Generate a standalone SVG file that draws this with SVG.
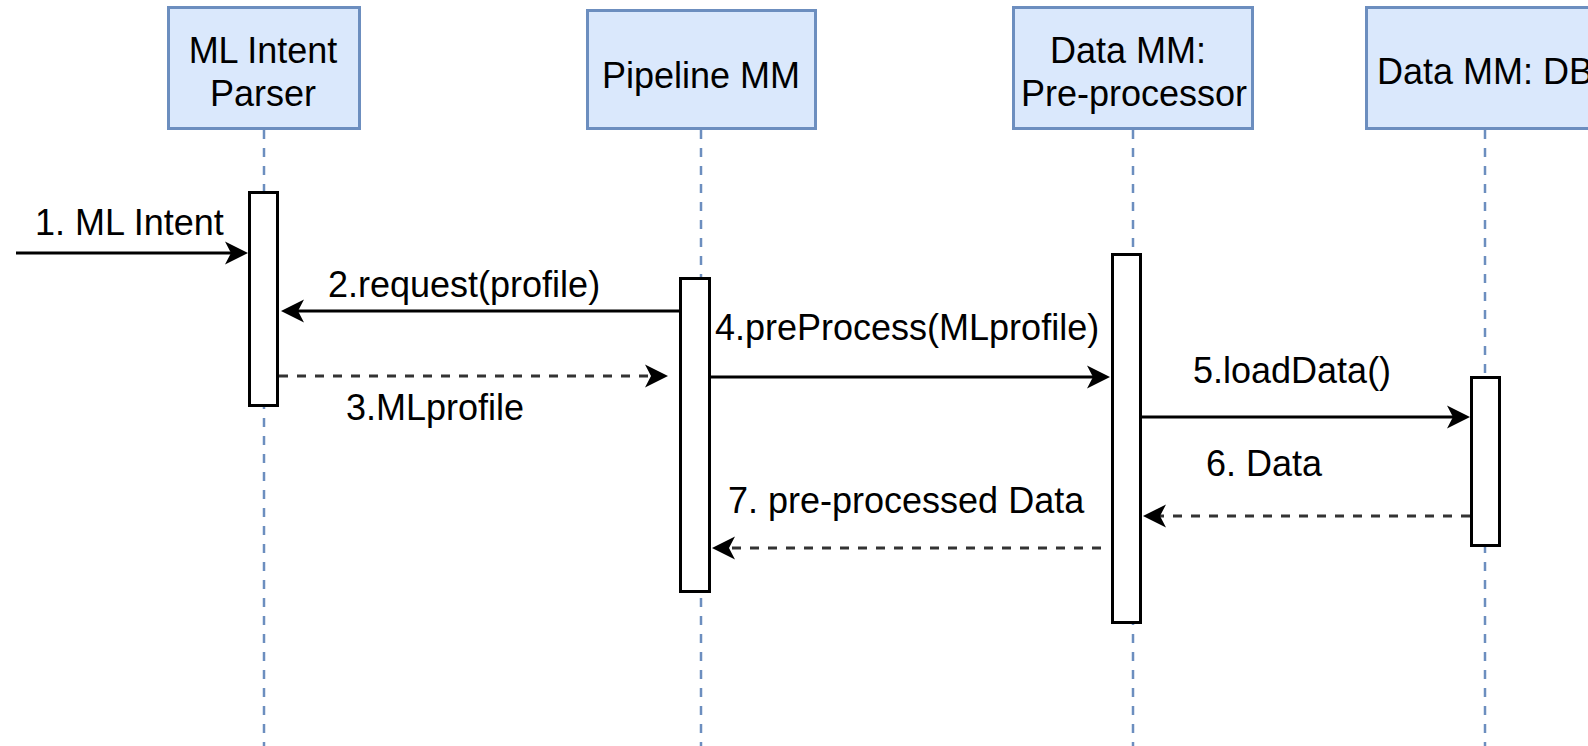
<svg xmlns="http://www.w3.org/2000/svg" width="1588" height="746" viewBox="0 0 1588 746">
  <style>
    .head { fill: #dae8fc; stroke: #6c8ebf; stroke-width: 3; }
    .life { fill: none; stroke: #6c8ebf; stroke-width: 2.5; stroke-dasharray: 9 9; }
    .act { fill: #ffffff; stroke: #000000; stroke-width: 3; }
    .msg { fill: none; stroke: #000000; stroke-width: 3; marker-end: url(#arrow); }
    .ret { fill: none; stroke: #333333; stroke-width: 3; stroke-dasharray: 9 9; marker-end: url(#arrow); }
    text { font-family: "Liberation Sans", Arial, sans-serif; font-size: 36px; fill: #000000; }
    .c { text-anchor: middle; }
  </style>
  <defs>
    <!-- classic notched arrowhead, tip 17px beyond the line end -->
    <marker id="arrow" markerUnits="userSpaceOnUse" markerWidth="24" markerHeight="24" viewBox="0 0 24 24" refX="6" refY="12" orient="auto">
      <path d="M0,0.5 L23,12 L0,23.5 L6,12 Z" fill="#000000"/>
    </marker>
  </defs>

  <rect width="1588" height="746" fill="#ffffff"/>

  <!-- lifelines -->
  <g id="lifelines">
    <line class="life" x1="264" y1="130" x2="264" y2="746"/>
    <line class="life" x1="701" y1="130" x2="701" y2="746"/>
    <line class="life" x1="1133" y1="130" x2="1133" y2="746"/>
    <line class="life" x1="1485" y1="130" x2="1485" y2="746"/>
  </g>

  <g id="intent-parser">
    <rect class="head" x="168.5" y="7.5" width="191" height="121"/>
    <text class="c" x="263" y="63">ML Intent</text>
    <text class="c" x="263" y="106">Parser</text>
    <rect class="act" x="249.5" y="192.5" width="28" height="213"/>
  </g>

  <g id="pipeline-mm">
    <rect class="head" x="587.5" y="10.5" width="228" height="118"/>
    <text class="c" x="701" y="88">Pipeline MM</text>
    <rect class="act" x="680.5" y="278.5" width="29" height="313"/>
  </g>

  <g id="pre-processor">
    <rect class="head" x="1013.5" y="7.5" width="239" height="121"/>
    <text class="c" x="1128" y="63">Data MM:</text>
    <text class="c" x="1134" y="106">Pre-processor</text>
    <rect class="act" x="1112.5" y="254.5" width="28" height="368"/>
  </g>

  <g id="data-db">
    <rect class="head" x="1366.5" y="7.5" width="237" height="121"/>
    <text class="c" x="1485" y="84">Data MM: DB</text>
    <rect class="act" x="1471.5" y="377.5" width="28" height="168"/>
  </g>

  <!-- messages -->
  <g id="connectors">
    <line class="msg" x1="16" y1="253" x2="231" y2="253"/>
    <line class="msg" x1="679" y1="311" x2="298" y2="311"/>
    <line class="ret" x1="279" y1="376" x2="651" y2="376"/>
    <line class="msg" x1="711" y1="377" x2="1093" y2="377"/>
    <line class="msg" x1="1142" y1="417" x2="1453" y2="417"/>
    <line class="ret" x1="1470" y1="516" x2="1160" y2="516"/>
    <line class="ret" x1="1101" y1="548" x2="729" y2="548"/>

    <text x="35" y="235">1. ML Intent</text>
    <text x="328" y="297">2.request(profile)</text>
    <text x="346" y="420">3.MLprofile</text>
    <text x="715" y="340">4.preProcess(MLprofile)</text>
    <text x="1193" y="383">5.loadData()</text>
    <text x="1206" y="476">6. Data</text>
    <text x="728" y="513">7. pre-processed Data</text>
  </g>
</svg>
